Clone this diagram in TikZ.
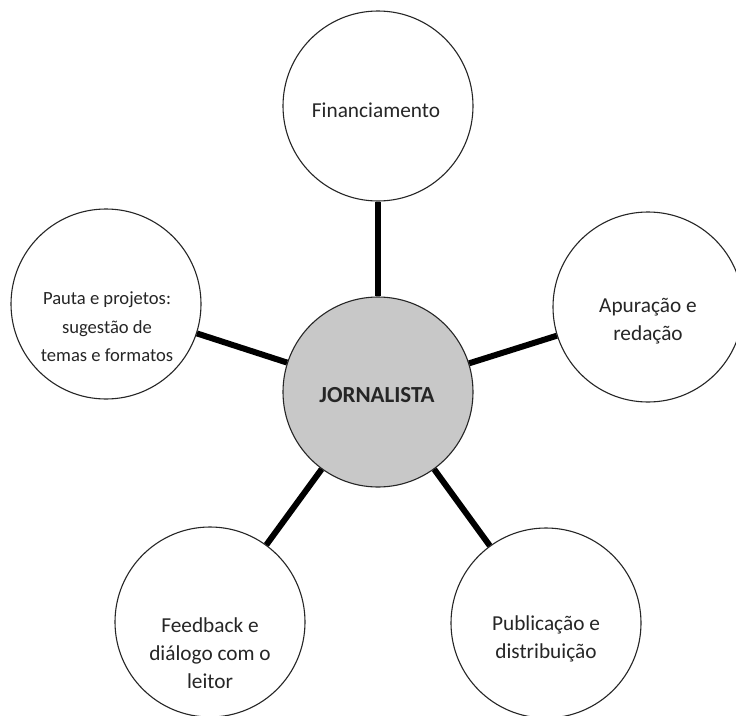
\documentclass[tikz,border=0pt]{standalone}
\usepackage{fontspec}
\setmainfont{Carlito}
\definecolor{hubgray}{RGB}{200,200,200}
\begin{document}
\begin{tikzpicture}[x=1pt,y=-1pt,
  bubble/.style={circle,draw=black!85,line width=1.1pt,fill=white,minimum size=190pt,inner sep=0pt},
  hub/.style={bubble,fill=hubgray},
  txt/.style={align=center,font=\fontsize{21.3}{28}\selectfont,text=black!85,inner sep=0pt},
  smalltxt/.style={txt,font=\fontsize{18.6}{28.5}\selectfont},
  hubtxt/.style={txt,font=\fontsize{23}{26}\selectfont\bfseries},
  link/.style={line width=6pt,black}]
\useasboundingbox (0,0) rectangle (736,715);
\fill[white] (0,0) rectangle (736,715);
% circles
\node[hub] (hub) at (378,392) {};
\node[bubble] (fin) at (378,106) {};
\node[bubble] (pau) at (106,304) {};
\node[bubble] (apu) at (648,307) {};
\node[bubble] (fee) at (210,622) {};
\node[bubble] (pub) at (546,623) {};
% connectors
\draw[link] (hub) -- (fin);
\draw[link] (hub) -- (pau);
\draw[link] (hub) -- (apu);
\draw[link] (hub) -- (fee);
\draw[link] (hub) -- (pub);
% texts
\node[hubtxt] (tjor) at (377,395) {JORNALISTA};
\node[txt] (tfin) at (376,110) {Financiamento};
\node[smalltxt] (tpau) at (107,327) {Pauta e projetos:\\sugestão de\\temas e formatos};
\node[txt] (tapu) at (648,321) {Apuração e\\redação};
\node[txt] (tfee) at (210,653) {Feedback e\\diálogo com o\\leitor};
\node[txt] (tpub) at (546,639) {Publicação e\\distribuição};
\end{tikzpicture}
\end{document}
